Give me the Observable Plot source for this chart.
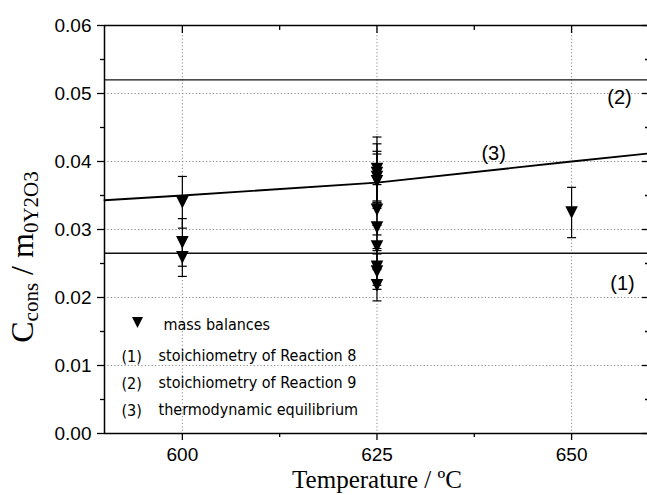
<!DOCTYPE html>
<html><head><meta charset="utf-8">
<script src="https://cdn.jsdelivr.net/npm/d3@7"></script>
<script src="https://cdn.jsdelivr.net/npm/@observablehq/plot@0.6"></script>
<style>
html,body{margin:0;padding:0;background:#fff;overflow:hidden}
#chart{position:relative;width:647px;height:495px}
</style></head><body><div id="chart"></div>
<script>
// ---- data ----
const massT     = [600, 600, 600, 625, 625, 625, 625, 625, 625, 625, 625, 625, 625, 650];
const massValue = [0.0340, 0.0281, 0.0259, 0.0389, 0.0383, 0.0377, 0.0371, 0.0329, 0.0303, 0.0275, 0.0245, 0.0238, 0.0218, 0.0325];
const massError = [0.0038, 0.0035, 0.0028, 0.0047, 0.0043, 0.0038, 0.0040, 0.0037, 0.0034, 0.0031, 0.0027, 0.0026, 0.0023, 0.0037];
const stoichReaction8 = 0.0265;   // line (1)
const stoichReaction9 = 0.0520;   // line (2)
const equilibriumT     = [590, 600, 625, 650, 660];
const equilibriumValue = [0.0343, 0.0350, 0.0369, 0.0400, 0.0412]; // line (3)
const xTicks = [600, 625, 650];
const xMinorTicks = [612.5, 637.5];
const yTicks = [0, 0.01, 0.02, 0.03, 0.04, 0.05, 0.06];
const yMinorTicks = [0.005, 0.015, 0.025, 0.035, 0.045, 0.055];
const yGrid = [0.01, 0.02, 0.03, 0.04, 0.05];
const legendMarkerLabel = "mass balances";
const legendKeys = ["(1)", "(2)", "(3)"];
const legendLabels = ["stoichiometry of Reaction 8", "stoichiometry of Reaction 9", "thermodynamic equilibrium"];
const xTitle = "Temperature / ºC";

// ---- tables ----
const mass = massT.map((T, i) => ({T, v: massValue[i], lo: massValue[i] - massError[i], hi: massValue[i] + massError[i]}));
const equilibrium = equilibriumT.map((T, i) => ({T, v: equilibriumValue[i]}));

const downTriangle = {draw(ctx, size) { const r = Math.sqrt(size / Math.PI); ctx.moveTo(-r, -r); ctx.lineTo(r, -r); ctx.lineTo(0, r); ctx.closePath(); }};
const capSymbol = {draw(ctx, size) { const r = Math.sqrt(size / Math.PI); ctx.moveTo(-r, 0); ctx.lineTo(r, 0); }};

const sans = "'Liberation Sans', Arial, sans-serif";
const legendFont = "'DejaVu Sans Condensed', 'DejaVu Sans', sans-serif";
const grid = {stroke: "#8a8a8a", strokeDasharray: "1.2,2.2", strokeWidth: 1};
const blank = () => "";
const legendRow = 27;

const legendMarks = legendKeys.flatMap((key, i) => [
  Plot.text([key], {text: d => d, frameAnchor: "top-left", dx: 17, dy: 325 + i * legendRow, textAnchor: "start", fontSize: 16, fontFamily: legendFont}),
  Plot.text([legendLabels[i]], {text: d => d, frameAnchor: "top-left", dx: 54, dy: 324 + i * legendRow, textAnchor: "start", fontSize: 16, fontFamily: legendFont})
]);

const chart = Plot.plot({
  width: 647, height: 495,
  marginTop: 25, marginLeft: 104, marginRight: 0, marginBottom: 62,
  style: {fontFamily: sans, background: "#fff", color: "#000"},
  x: {domain: [590, 659.75]},
  y: {domain: [0, 0.06]},
  marks: [
    Plot.ruleY(yGrid, grid),
    Plot.ruleX(xTicks, grid),
    Plot.ruleY([stoichReaction8, stoichReaction9], {stroke: "#111", strokeWidth: 1.4}),
    Plot.line(equilibrium, {x: "T", y: "v", stroke: "#000", strokeWidth: 1.9}),
    Plot.ruleX(mass, {x: "T", y1: "lo", y2: "hi", stroke: "#000", strokeWidth: 1.2}),
    Plot.dot(mass, {x: "T", y: "lo", symbol: capSymbol, r: 4.5, stroke: "#000", strokeWidth: 1.2, fill: "none"}),
    Plot.dot(mass, {x: "T", y: "hi", symbol: capSymbol, r: 4.5, stroke: "#000", strokeWidth: 1.2, fill: "none"}),
    Plot.dot(mass, {x: "T", y: "v", symbol: downTriangle, r: 6.3, fill: "#000", stroke: "none"}),
    // frame
    Plot.ruleY([0, 0.06], {stroke: "#000", strokeWidth: 1.5}),
    Plot.ruleX([590], {stroke: "#000", strokeWidth: 1.5}),
    // axes
    Plot.axisY(yTicks, {tickSize: 7, tickPadding: 6, tickFormat: ".2f", fontSize: 19, label: null, strokeWidth: 1.3}),
    Plot.axisY(yMinorTicks, {tickSize: 4, tickFormat: blank, label: null, strokeWidth: 1.3}),
    Plot.axisX(xTicks, {tickSize: 7, tickPadding: 7, fontSize: 19, label: null, strokeWidth: 1.3}),
    Plot.axisX(xMinorTicks, {tickSize: 4, tickFormat: blank, label: null, strokeWidth: 1.3}),
    Plot.axisX(xTicks, {anchor: "top", tickSize: -7, tickFormat: blank, label: null, strokeWidth: 1.3}),
    Plot.axisX(xMinorTicks, {anchor: "top", tickSize: -4, tickFormat: blank, label: null, strokeWidth: 1.3}),
    Plot.axisY(yTicks, {anchor: "right", tickSize: -6, tickFormat: blank, label: null, strokeWidth: 1.3}),
    Plot.axisY(yMinorTicks, {anchor: "right", tickSize: -3, tickFormat: blank, label: null, strokeWidth: 1.3}),
    // line labels
    Plot.text([legendKeys[0]], {y: [stoichReaction8], text: d => d, frameAnchor: "right", dx: -25, dy: 30, fontSize: 20, textAnchor: "middle"}),
    Plot.text([legendKeys[1]], {y: [stoichReaction9], text: d => d, frameAnchor: "right", dx: -28, dy: 18, fontSize: 20, textAnchor: "middle"}),
    Plot.text([legendKeys[2]], {x: [equilibriumT[3]], y: [equilibriumValue[3]], text: d => d, dx: -78, dy: -8, fontSize: 20, textAnchor: "middle"}),
    // legend
    Plot.dot([legendMarkerLabel], {frameAnchor: "top-left", dx: 33, dy: 297, symbol: downTriangle, r: 5.5, fill: "#000"}),
    Plot.text([legendMarkerLabel], {text: d => d, frameAnchor: "top-left", dx: 59, dy: 293, textAnchor: "start", fontSize: 16, fontFamily: legendFont}),
    ...legendMarks
  ]
});
document.getElementById("chart").appendChild(chart);

// axis titles (with subscripts)
const svg = d3.select(chart);
const serif = "'Liberation Serif', 'Times New Roman', serif";
const yt = svg.append("text")
  .attr("transform", "translate(33,257) rotate(-90)")
  .attr("text-anchor", "middle").attr("font-family", serif).attr("font-size", 32).attr("fill", "#000");
yt.append("tspan").text("C");
yt.append("tspan").attr("font-size", 21).attr("dy", 5).text("cons");
yt.append("tspan").attr("dy", -5).text(" / m");
yt.append("tspan").attr("font-size", 21).attr("dy", 5).text("0Y2O3");
svg.append("text").attr("x", 377).attr("y", 488)
  .attr("text-anchor", "middle").attr("font-family", serif).attr("font-size", 25).attr("fill", "#000")
  .text(xTitle);
</script>
</body></html>
